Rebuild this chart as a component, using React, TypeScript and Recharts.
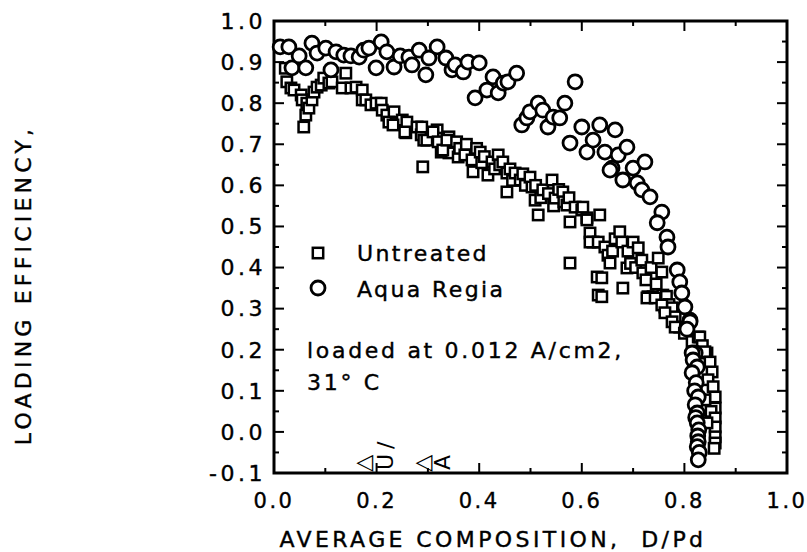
import React from 'react';
import {
  ScatterChart,
  Scatter,
  XAxis,
  YAxis,
  ReferenceArea,
  ReferenceLine,
  ReferenceDot,
} from 'recharts';

// Untreated (squares) - D/Pd vs loading efficiency
const untreatedX = [
  0.022, 0.025, 0.033, 0.039, 0.053, 0.055, 0.064, 0.062, 0.058, 0.068, 0.074, 0.078, 0.084, 0.092,
  0.097, 0.107, 0.113, 0.133, 0.140, 0.150, 0.160, 0.172, 0.172, 0.179, 0.189, 0.199, 0.209, 0.211,
  0.220, 0.234, 0.224, 0.238, 0.250, 0.259, 0.257, 0.279, 0.287, 0.292, 0.306, 0.318, 0.322, 0.331,
  0.341, 0.341, 0.326, 0.232, 0.255, 0.288, 0.290, 0.298, 0.310, 0.320, 0.329, 0.337, 0.356, 0.359,
  0.362, 0.372, 0.375, 0.386, 0.395, 0.402, 0.388, 0.405, 0.410, 0.417, 0.425, 0.430, 0.437, 0.440,
  0.446, 0.454, 0.454, 0.460, 0.465, 0.470, 0.480, 0.485, 0.490, 0.499, 0.503, 0.509, 0.510, 0.515,
  0.520, 0.524, 0.535, 0.542, 0.545, 0.548, 0.555, 0.563, 0.565, 0.571, 0.575, 0.577, 0.587, 0.600,
  0.610, 0.616, 0.622, 0.577, 0.630, 0.632, 0.602, 0.610, 0.635, 0.616, 0.632, 0.639, 0.639, 0.645,
  0.651, 0.655, 0.660, 0.665, 0.674, 0.678, 0.688, 0.680, 0.690, 0.695, 0.700, 0.705, 0.710, 0.717,
  0.719, 0.725, 0.729, 0.735, 0.739, 0.745, 0.749, 0.756, 0.758, 0.762, 0.765, 0.770, 0.776, 0.782,
  0.791, 0.805, 0.727, 0.743, 0.756, 0.762, 0.776, 0.782, 0.800, 0.815, 0.827, 0.830, 0.835, 0.844,
  0.840, 0.850, 0.854, 0.846, 0.856, 0.860, 0.860, 0.852, 0.860, 0.860, 0.860, 0.860, 0.858, 0.840,
  0.844,
];
const untreatedY = [
  0.885, 0.852, 0.837, 0.832, 0.820, 0.808, 0.800, 0.771, 0.742, 0.788, 0.808, 0.827, 0.839, 0.844,
  0.861, 0.849, 0.852, 0.837, 0.873, 0.837, 0.839, 0.832, 0.808, 0.808, 0.796, 0.800, 0.800, 0.783,
  0.771, 0.779, 0.754, 0.752, 0.759, 0.754, 0.728, 0.742, 0.723, 0.710, 0.728, 0.735, 0.715, 0.703,
  0.718, 0.679, 0.681, 0.747, 0.730, 0.742, 0.645, 0.710, 0.730, 0.706, 0.686, 0.710, 0.706, 0.669,
  0.690, 0.674, 0.700, 0.662, 0.690, 0.681, 0.633, 0.655, 0.670, 0.625, 0.657, 0.640, 0.674, 0.650,
  0.657, 0.584, 0.630, 0.640, 0.612, 0.630, 0.613, 0.628, 0.600, 0.620, 0.596, 0.564, 0.600, 0.528,
  0.570, 0.589, 0.580, 0.613, 0.550, 0.569, 0.590, 0.584, 0.560, 0.552, 0.570, 0.511, 0.547, 0.540,
  0.521, 0.484, 0.462, 0.411, 0.377, 0.333, 0.547, 0.516, 0.528, 0.462, 0.462, 0.375, 0.329, 0.450,
  0.430, 0.411, 0.440, 0.470, 0.487, 0.462, 0.399, 0.350, 0.440, 0.410, 0.462, 0.400, 0.448, 0.418,
  0.387, 0.370, 0.329, 0.400, 0.329, 0.360, 0.423, 0.389, 0.333, 0.304, 0.330, 0.310, 0.302, 0.280,
  0.255, 0.253, 0.326, 0.326, 0.309, 0.290, 0.268, 0.255, 0.240, 0.220, 0.231, 0.231, 0.210, 0.192,
  0.195, 0.170, 0.146, 0.127, 0.110, 0.085, 0.058, 0.050, 0.034, 0.012, -0.012, -0.027, -0.040, 0.078,
  0.022,
];

// Aqua Regia (circles)
const aquaX = [
  0.012, 0.029, 0.035, 0.049, 0.062, 0.074, 0.084, 0.101, 0.111, 0.121, 0.136, 0.150, 0.166, 0.175,
  0.185, 0.199, 0.209, 0.220, 0.234, 0.246, 0.263, 0.269, 0.283, 0.296, 0.302, 0.318, 0.335, 0.347,
  0.353, 0.369, 0.378, 0.400, 0.392, 0.415, 0.427, 0.437, 0.447, 0.456, 0.473, 0.483, 0.493, 0.499,
  0.515, 0.524, 0.534, 0.544, 0.557, 0.567, 0.587, 0.577, 0.600, 0.610, 0.622, 0.635, 0.645, 0.665,
  0.671, 0.688, 0.659, 0.655, 0.680, 0.700, 0.723, 0.708, 0.717, 0.733, 0.756, 0.747, 0.766, 0.768,
  0.786, 0.791, 0.795, 0.801, 0.811, 0.805, 0.811, 0.805, 0.821, 0.815, 0.817, 0.825, 0.815, 0.823,
  0.820, 0.827, 0.821, 0.825, 0.822, 0.825, 0.828, 0.826, 0.827, 0.825, 0.829, 0.827,
];
const aquaY = [
  0.937, 0.937, 0.886, 0.915, 0.886, 0.946, 0.922, 0.934, 0.881, 0.925, 0.917, 0.915, 0.912, 0.929,
  0.934, 0.886, 0.949, 0.925, 0.888, 0.915, 0.912, 0.893, 0.929, 0.869, 0.910, 0.937, 0.910, 0.881,
  0.893, 0.876, 0.900, 0.898, 0.813, 0.832, 0.864, 0.825, 0.849, 0.852, 0.873, 0.747, 0.764, 0.779,
  0.800, 0.783, 0.742, 0.766, 0.764, 0.800, 0.852, 0.703, 0.742, 0.681, 0.710, 0.747, 0.681, 0.735,
  0.674, 0.693, 0.642, 0.637, 0.613, 0.642, 0.657, 0.606, 0.589, 0.572, 0.535, 0.509, 0.474, 0.450,
  0.394, 0.365, 0.338, 0.304, 0.272, 0.255, 0.268, 0.250, 0.192, 0.192, 0.175, 0.158, 0.144, 0.120,
  0.100, 0.085, 0.066, 0.046, 0.035, 0.022, 0.005, -0.010, -0.024, -0.036, -0.050, -0.068,
];

const xTicks = [0, 0.2, 0.4, 0.6, 0.8, 1.0];
const yTicks = [-0.1, 0, 0.1, 0.2, 0.3, 0.4, 0.5, 0.6, 0.7, 0.8, 0.9, 1.0];
const xTickMarks = [0.1, 0.2, 0.3, 0.4, 0.5, 0.6, 0.7, 0.8, 0.9];
const yTickMarks = [
  -0.05, 0, 0.05, 0.1, 0.15, 0.2, 0.25, 0.3, 0.35, 0.4, 0.45, 0.5, 0.55, 0.6, 0.65, 0.7, 0.75, 0.8,
  0.85, 0.9, 0.95,
];

const untreated = untreatedX.map((x, i) => ({ x, y: untreatedY[i] }));
const aqua = aquaX.map((x, i) => ({ x, y: aquaY[i] }));

const FONT = "'DejaVu Sans', Verdana, sans-serif";
const W = 807;
const H = 552;
const PLOT_W = 513;
const PLOT_H = 452;
const xPerPx = 1 / PLOT_W;
const yPerPx = 1.1 / PLOT_H;

const isMajor = (v: number) => Math.abs(Math.round(v * 10) - v * 10) < 1e-6;

const SquareMark = (props: any) => {
  const { cx, cy } = props;
  return <rect x={cx - 5.2} y={cy - 5.2} width={10.4} height={10.4} fill="#fff" stroke="#000" strokeWidth={2.5} />;
};

const CircleMark = (props: any) => {
  const { cx, cy } = props;
  return <circle cx={cx} cy={cy} r={7} fill="#fff" stroke="#000" strokeWidth={2.8} />;
};

const GlyphU = (props: any) => {
  const { cx, cy } = props;
  return (
    <g fontFamily={FONT} fill="#000">
      <text x={cx - 12} y={cy - 4} fontSize={22} textAnchor="middle">◁</text>
      <text transform={`translate(${cx + 16},${cy - 3}) rotate(-90)`} fontSize={22} letterSpacing={5}>U/</text>
    </g>
  );
};

const GlyphA = (props: any) => {
  const { cx, cy } = props;
  return (
    <g fontFamily={FONT} fill="#000">
      <text x={cx - 4} y={cy - 4} fontSize={22} textAnchor="middle">◁</text>
      <text transform={`translate(${cx + 22},${cy - 3}) rotate(-90)`} fontSize={22}>A</text>
    </g>
  );
};

const yTickStyle = { fill: '#000', stroke: '#000', strokeWidth: 0.4, fontSize: 22, fontFamily: FONT, letterSpacing: 3.5 };
const xTickStyle = { fill: '#000', stroke: '#000', strokeWidth: 0.4, fontSize: 21, fontFamily: FONT, letterSpacing: 2.5 };
const textInk = { fill: '#000', stroke: '#000', strokeWidth: 0.4 };

export default function App() {
  return (
    <div style={{ position: 'absolute', left: 0, top: 0, width: W, height: H, background: '#fff' }}>
      <ScatterChart width={W} height={H} margin={{ top: 21, right: 20, bottom: 0, left: 0 }}>
        <XAxis
          dataKey="x"
          type="number"
          domain={[0, 1]}
          ticks={xTicks}
          tickFormatter={(v: number) => v.toFixed(1)}
          axisLine={false}
          tickLine={false}
          height={79}
          tickMargin={14}
          tick={xTickStyle}
        />
        <YAxis
          dataKey="y"
          type="number"
          domain={[-0.1, 1]}
          ticks={yTicks}
          tickFormatter={(v: number) => v.toFixed(1)}
          axisLine={false}
          tickLine={false}
          width={274}
          tickMargin={2}
          tick={yTickStyle}
        />
        <Scatter data={untreated} shape={SquareMark} isAnimationActive={false} />
        <Scatter data={aqua} shape={CircleMark} isAnimationActive={false} />

        {xTickMarks.map((v) => {
          const len = (isMajor(v / 2) ? 10 : 5) * yPerPx;
          return (
            <React.Fragment key={`xt${v}`}>
              <ReferenceLine segment={[{ x: v, y: -0.1 }, { x: v, y: -0.1 + len }]} stroke="#000" strokeWidth={2} ifOverflow="visible" />
              <ReferenceLine segment={[{ x: v, y: 1 }, { x: v, y: 1 - len }]} stroke="#000" strokeWidth={2} ifOverflow="visible" />
            </React.Fragment>
          );
        })}
        {yTickMarks.map((v) => {
          const len = (isMajor(v) ? 10 : 5) * xPerPx;
          return (
            <React.Fragment key={`yt${v}`}>
              <ReferenceLine segment={[{ x: 0, y: v }, { x: len, y: v }]} stroke="#000" strokeWidth={2} ifOverflow="visible" />
              <ReferenceLine segment={[{ x: 1, y: v }, { x: 1 - len, y: v }]} stroke="#000" strokeWidth={2} ifOverflow="visible" />
            </React.Fragment>
          );
        })}

        <ReferenceArea x1={0} x2={1} y1={-0.1} y2={1} fill="none" stroke="#000" strokeWidth={3} ifOverflow="visible" />
        <ReferenceDot x={0.2} y={-0.1} shape={GlyphU} ifOverflow="visible" />
        <ReferenceDot x={0.3} y={-0.1} shape={GlyphA} ifOverflow="visible" />
      </ScatterChart>

      <svg
        width={W}
        height={H}
        style={{ position: 'absolute', left: 0, top: 0, pointerEvents: 'none' }}
        fontFamily={FONT}
      >
        <text
          transform="translate(31,285) rotate(-90)"
          textAnchor="middle"
          fontSize={22}
          letterSpacing={4.2}
          {...textInk}
        >
          LOADING EFFICIENCY,
        </text>
        <text x={493} y={547} textAnchor="middle" fontSize={22} letterSpacing={3.4} style={{ whiteSpace: 'pre' }} {...textInk}>
          AVERAGE COMPOSITION,  D/Pd
        </text>

        <rect x={312.8} y={247.8} width={10.4} height={10.4} fill="#fff" stroke="#000" strokeWidth={2.5} />
        <text x={357} y={261} fontSize={22} letterSpacing={2.4} {...textInk}>Untreated</text>
        <circle cx={318} cy={288} r={7} fill="#fff" stroke="#000" strokeWidth={2.8} />
        <text x={357} y={297} fontSize={22} letterSpacing={2.4} {...textInk}>Aqua Regia</text>

        <text x={307} y={358} fontSize={22} letterSpacing={2.7} {...textInk}>loaded at 0.012 A/cm2,</text>
        <text x={307} y={390} fontSize={22} letterSpacing={2.7} {...textInk}>31° C</text>
      </svg>
    </div>
  );
}
